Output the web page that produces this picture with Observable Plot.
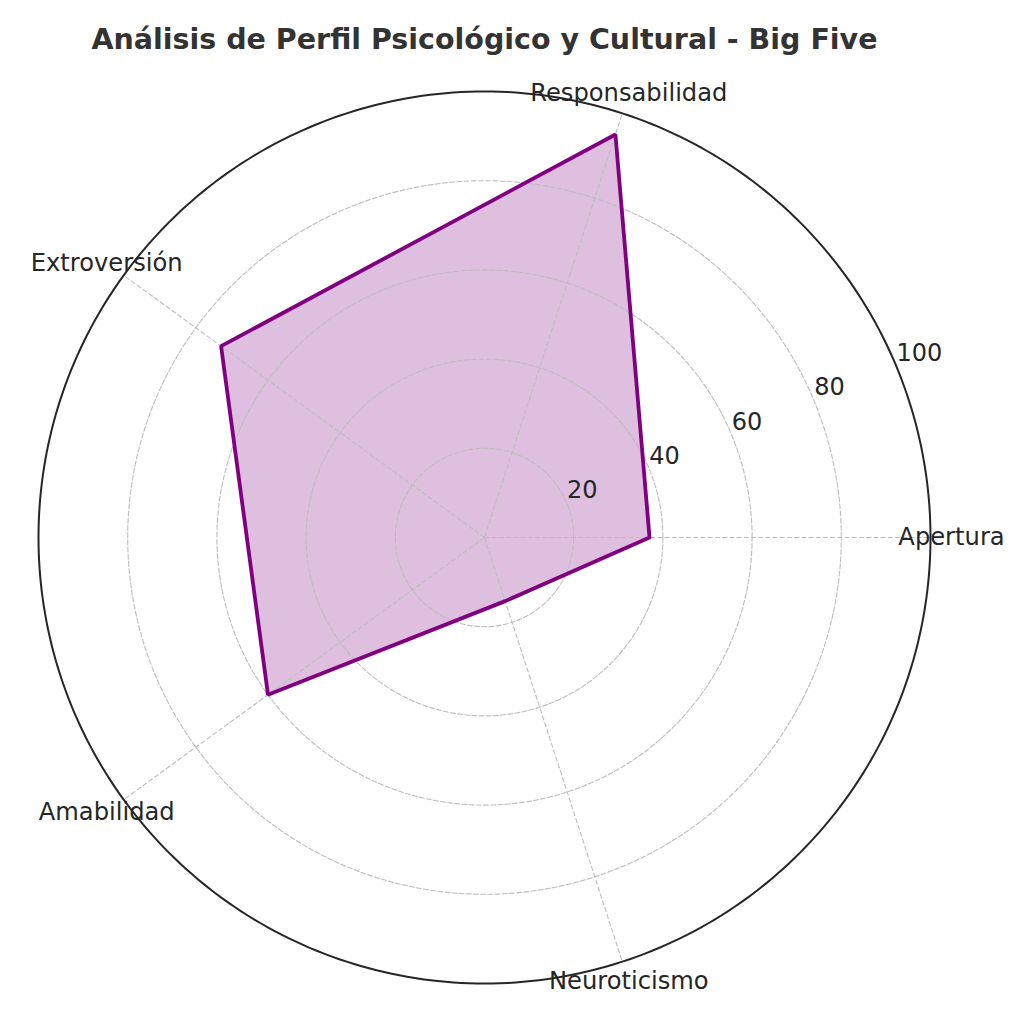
<!DOCTYPE html>
<html>
<head>
<meta charset="utf-8">
<script src="https://cdn.jsdelivr.net/npm/d3@7"></script>
<script src="https://cdn.jsdelivr.net/npm/@observablehq/plot@0.6"></script>
<style>
  html, body { margin: 0; padding: 0; background: #ffffff; }
  svg { display: block; }
</style>
</head>
<body>
<div id="chart"></div>
<script>
// ---- data ----
const title = "Análisis de Perfil Psicológico y Cultural - Big Five";
const categories = ["Apertura", "Responsabilidad", "Extroversión", "Amabilidad", "Neuroticismo"];
const values = [37, 95, 73, 60, 15];
const gridTicks = [20, 40, 60, 80];
const tickLabels = [20, 40, 60, 80, 100];
const rMax = 100;

// ---- layout (pixels) ----
const W = 1024, H = 1024;
const cx = 484, cy = 537;       // centre of the polar axes
const k = 4.46;                  // pixels per unit of radius
const labelAngle = 22.5 * Math.PI / 180;

const ang = i => i * 2 * Math.PI / categories.length;
const pol = (r, a) => ({x: r * Math.cos(a), y: r * Math.sin(a)});

// closed polygon (first point repeated, like the original)
const poly = values.map((v, i) => ({...pol(v, ang(i)), name: categories[i]}));
poly.push(poly[0]);

// rings (axis geometry)
const ringPts = r => d3.range(0, 361).map(d => ({...pol(r, d * Math.PI / 180), r}));
const rings = gridTicks.flatMap(ringPts);
const outer = ringPts(rMax);

const spokes = categories.map((c, i) => ({x1: 0, y1: 0, x2: pol(rMax, ang(i)).x, y2: pol(rMax, ang(i)).y}));
const catLabels = categories.map((c, i) => ({...pol(467 / k, ang(i)), c}));
const radLabels = tickLabels.map(t => ({...pol(t, labelAngle), t}));

const gridStyle = {stroke: "#bdbdbd", strokeWidth: 1.1, strokeDasharray: "5,2.2"};

const chart = Plot.plot({
  width: W,
  height: H,
  margin: 0,
  x: {domain: [-cx / k, (W - cx) / k], axis: null},
  y: {domain: [-(H - cy) / k, cy / k], axis: null},
  style: {fontFamily: "DejaVu Sans", background: "#ffffff", overflow: "visible"},
  marks: [
    // filled area
    Plot.line(poly, {x: "x", y: "y", fill: "#800080", fillOpacity: 0.25, stroke: "none"}),
    // grid rings & spokes
    Plot.line(rings, {x: "x", y: "y", z: "r", ...gridStyle}),
    Plot.link(spokes, {x1: "x1", y1: "y1", x2: "x2", y2: "y2", ...gridStyle}),
    // radial tick labels
    Plot.text(radLabels, {x: "x", y: "y", text: d => String(d.t), textAnchor: "start", lineAnchor: "bottom",
      dy: -5.5, fontSize: 24, fill: "#262626"}),
    // category labels
    Plot.text(catLabels, {x: "x", y: "y", text: "c", textAnchor: "middle", lineAnchor: "middle",
      fontSize: 24.2, fill: "#262626"}),
    // outline
    Plot.line(poly, {x: "x", y: "y", stroke: "#800080", strokeWidth: 3.8, strokeLinejoin: "miter"}),
    // outer spine
    Plot.line(outer, {x: "x", y: "y", stroke: "#262626", strokeWidth: 2}),
    // title
    Plot.text([title], {frameAnchor: "top-left", dx: 484, dy: 48.5, text: d => d, textAnchor: "middle",
      lineAnchor: "bottom", fontSize: 28.5, fontWeight: "bold", fill: "#333333"})
  ]
});

document.getElementById("chart").appendChild(chart);
</script>
</body>
</html>
